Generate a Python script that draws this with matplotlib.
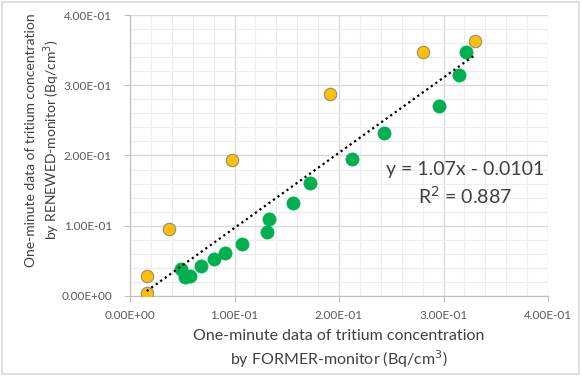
import numpy as np
import matplotlib
matplotlib.use("Agg")
import matplotlib.pyplot as plt
from matplotlib.ticker import MultipleLocator, FuncFormatter

plt.rcParams["font.family"] = ["Lato", "DejaVu Sans"]

# yellow points (outliers)
former_y = [0.016, 0.016, 0.037, 0.098, 0.191, 0.280, 0.330]
renewed_y = [0.004, 0.028, 0.096, 0.194, 0.288, 0.348, 0.363]

# green points
former_g = [0.049, 0.053, 0.057, 0.068, 0.080, 0.091, 0.107, 0.131, 0.133,
            0.156, 0.172, 0.212, 0.243, 0.296, 0.315, 0.322]
renewed_g = [0.038, 0.027, 0.029, 0.043, 0.052, 0.061, 0.074, 0.091, 0.110,
             0.132, 0.161, 0.195, 0.232, 0.271, 0.314, 0.348]

slope = 1.07
intercept = -0.0101
r2 = 0.887

fig = plt.figure(figsize=(5.81, 3.76), dpi=100)
fig.patch.set_facecolor("white")
ax = fig.add_axes([0.2238, 0.2128, 0.7194, 0.7473])

grid_major = "#d9d9d9"
grid_minor = "#ececec"
ax.xaxis.set_major_locator(MultipleLocator(0.1))
ax.yaxis.set_major_locator(MultipleLocator(0.1))
ax.xaxis.set_minor_locator(MultipleLocator(0.02))
ax.yaxis.set_minor_locator(MultipleLocator(0.02))
ax.grid(which="major", color=grid_major, linewidth=1.0, zorder=0)
ax.grid(which="minor", color=grid_minor, linewidth=0.8, zorder=0)
ax.set_axisbelow(True)

ax.set_xlim(0, 0.4)
ax.set_ylim(0, 0.4)
for s in ax.spines.values():
    s.set_visible(False)
ax.spines["left"].set_visible(True)
ax.spines["bottom"].set_visible(True)
ax.spines["left"].set_color("#bfbfbf")
ax.spines["bottom"].set_color("#bfbfbf")

fmt = FuncFormatter(lambda v, p: f"{v:.2E}")
ax.xaxis.set_major_formatter(fmt)
ax.yaxis.set_major_formatter(fmt)
ax.tick_params(which="major", length=4, color="#bfbfbf", labelsize=8.5,
               labelcolor="#595959")
ax.tick_params(axis="y", which="major", pad=9)
ax.tick_params(axis="x", which="major", pad=6)
ax.tick_params(which="minor", length=0)

# trend line
xs = np.array([min(former_y + former_g), max(former_y + former_g)])
ax.plot(xs, slope * xs + intercept, color="black", linestyle=(0, (1, 1.5)),
        linewidth=1.6, zorder=4)

ax.scatter(former_y, renewed_y, s=80, color="#ffc000", edgecolors="#8c8c8c",
           linewidths=0.8, zorder=3)
ax.scatter(former_g, renewed_g, s=90, color="#00b050", edgecolors="#00b050",
           linewidths=0.5, zorder=3)

ax.text(0.321, 0.180, f"y = {slope:.2f}x - {abs(intercept):.4f}", fontsize=14,
        color="#404040", ha="center", va="center", zorder=5)
ax.text(0.321, 0.142, f"R$^2$ = {r2:.3f}", fontsize=14, color="#404040",
        ha="center", va="center", zorder=5)

ax.set_xlabel("One-minute data of tritium concentration\nby FORMER-monitor (Bq/cm$^3$)",
              fontsize=11.5, color="#404040", labelpad=6, linespacing=1.3)
ax.set_ylabel("One-minute data of tritium concentration\nby RENEWED-monitor (Bq/cm$^3$)",
              fontsize=10, color="#404040", linespacing=1.3)
ax.yaxis.set_label_coords(-0.163, 0.555)

# outer chart border
fig.add_artist(plt.Rectangle((0.003, 0.005), 0.994, 0.99, transform=fig.transFigure,
                             fill=False, edgecolor="#d9d9d9", linewidth=1.2))

fig.savefig("out.png", dpi=100)
